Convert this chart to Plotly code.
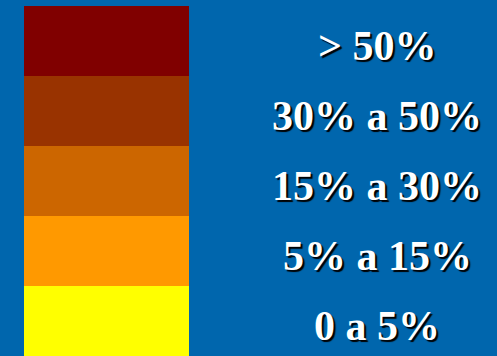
import plotly.graph_objects as go

labels = ["0 a 5%", "5% a 15%", "15% a 30%", "30% a 50%", "> 50%"]
colors = ["#FFFF00", "#FF9900", "#CC6600", "#993300", "#800000"]
band = [70, 70, 70, 70, 70]

bases = [sum(band[:i]) for i in range(len(band))]
centers = [b + h / 2 for b, h in zip(bases, band)]

fig = go.Figure()
fig.add_trace(go.Bar(
    x=[106.5] * len(band), y=band, base=bases, width=165,
    marker=dict(color=colors, line=dict(width=0)),
    hoverinfo="skip", showlegend=False,
))
for c, lab in zip(centers, labels):
    fig.add_annotation(
        x=377, y=c, text=lab, showarrow=False, yshift=-5,
        xanchor="center", yanchor="middle",
        font=dict(family="Liberation Serif", size=42, color="white",
                  weight="bold", shadow="2px 2px 1px #000"),
    )
fig.update_layout(
    width=497, height=356, margin=dict(l=0, r=0, t=0, b=0),
    paper_bgcolor="#0066AD", plot_bgcolor="#0066AD",
    barmode="overlay", bargap=0,
    xaxis=dict(range=[0, 497], visible=False, fixedrange=True),
    yaxis=dict(range=[0, 356], visible=False, fixedrange=True),
)
fig.write_html("out.html")
